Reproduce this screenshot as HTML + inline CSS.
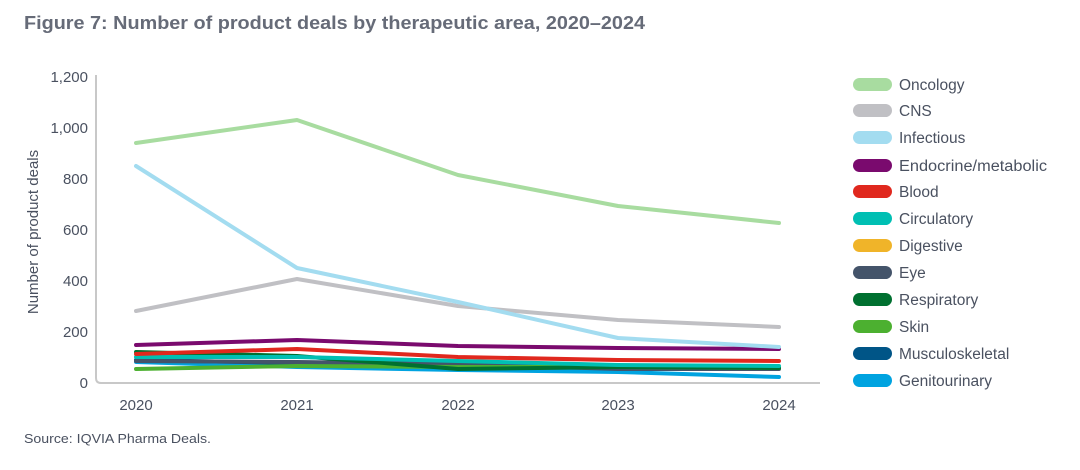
<!DOCTYPE html>
<html><head><style>
body{margin:0;background:#fff;}
svg text{font-family:"Liberation Sans",sans-serif;}
</style></head><body>
<svg width="1080" height="465" xmlns="http://www.w3.org/2000/svg">
<text x="24" y="29" font-size="18.5" font-weight="bold" fill="#666b78" textLength="621" lengthAdjust="spacingAndGlyphs">Figure 7: Number of product deals by therapeutic area, 2020–2024</text>
<path d="M96 75 V378 Q96 383 101 383 H820" fill="none" stroke="#c8c8c8" stroke-width="2"/>
<g font-size="15" fill="#4a5160" text-anchor="end">
<text x="88" y="82">1,200</text><text x="88" y="133">1,000</text><text x="88" y="184">800</text>
<text x="88" y="235">600</text><text x="88" y="286">400</text><text x="88" y="337">200</text><text x="88" y="388">0</text>
</g>
<text transform="translate(38,232) rotate(-90)" font-size="15" fill="#4a5160" text-anchor="middle">Number of product deals</text>
<g font-size="15" fill="#4a5160" text-anchor="middle">
<text x="136" y="410">2020</text><text x="297" y="410">2021</text><text x="458" y="410">2022</text><text x="618" y="410">2023</text><text x="779" y="410">2024</text>
</g>
<g fill="none" stroke-width="4" stroke-linejoin="round" stroke-linecap="round">
<polyline stroke="#00a3e0" points="136,362 297,367 458,370 618,372 779,377"/>
<polyline stroke="#005587" points="136,360 297,363 458,366 618,368 779,368"/>
<polyline stroke="#44546a" points="136,361 297,362 458,364 618,369 779,369"/>
<polyline stroke="#4cb030" points="136,369 297,366 458,367 618,367 779,368"/>
<polyline stroke="#007030" points="136,352 297,356 458,369 618,367 779,368"/>
<polyline stroke="#00bfb3" points="136,357 297,357 458,361 618,365 779,366"/>
<polyline stroke="#e0281e" points="136,354 297,349 458,357 618,360 779,361"/>
<polyline stroke="#7a0a6e" points="136,345 297,340 458,346 618,348 779,349"/>
<polyline stroke="#c0c0c4" points="136,311 297,279 458,306 618,320 779,327"/>
<polyline stroke="#a3dcf0" points="136,166 297,268 458,302 618,338 779,347"/>
<polyline stroke="#a8dca0" points="136,143 297,120 458,175 618,206 779,223"/>
</g>
<g>
<rect x="853" y="78" width="39" height="13" rx="6.5" fill="#a8dca0"/>
<rect x="853" y="104" width="39" height="13" rx="6.5" fill="#c0c0c4"/>
<rect x="853" y="131" width="39" height="13" rx="6.5" fill="#a3dcf0"/>
<rect x="853" y="159" width="39" height="13" rx="6.5" fill="#7a0a6e"/>
<rect x="853" y="185" width="39" height="13" rx="6.5" fill="#e0281e"/>
<rect x="853" y="212" width="39" height="13" rx="6.5" fill="#00bfb3"/>
<rect x="853" y="239" width="39" height="13" rx="6.5" fill="#f0b429"/>
<rect x="853" y="266" width="39" height="13" rx="6.5" fill="#44546a"/>
<rect x="853" y="293" width="39" height="13" rx="6.5" fill="#007030"/>
<rect x="853" y="320" width="39" height="13" rx="6.5" fill="#4cb030"/>
<rect x="853" y="347" width="39" height="13" rx="6.5" fill="#005587"/>
<rect x="853" y="374" width="39" height="13" rx="6.5" fill="#00a3e0"/>
</g>
<g font-size="15.5" fill="#4a5160">
<text x="899" y="90">Oncology</text><text x="899" y="116">CNS</text><text x="899" y="143">Infectious</text>
<text x="899" y="171" textLength="148" lengthAdjust="spacingAndGlyphs">Endocrine/metabolic</text><text x="899" y="197">Blood</text><text x="899" y="224">Circulatory</text>
<text x="899" y="251">Digestive</text><text x="899" y="278">Eye</text><text x="899" y="305">Respiratory</text>
<text x="899" y="332">Skin</text><text x="899" y="359">Musculoskeletal</text><text x="899" y="386">Genitourinary</text>
</g>
<text x="24" y="443" font-size="12.5" fill="#4a5160" textLength="187" lengthAdjust="spacingAndGlyphs">Source: IQVIA Pharma Deals.</text>
</svg>
</body></html>
